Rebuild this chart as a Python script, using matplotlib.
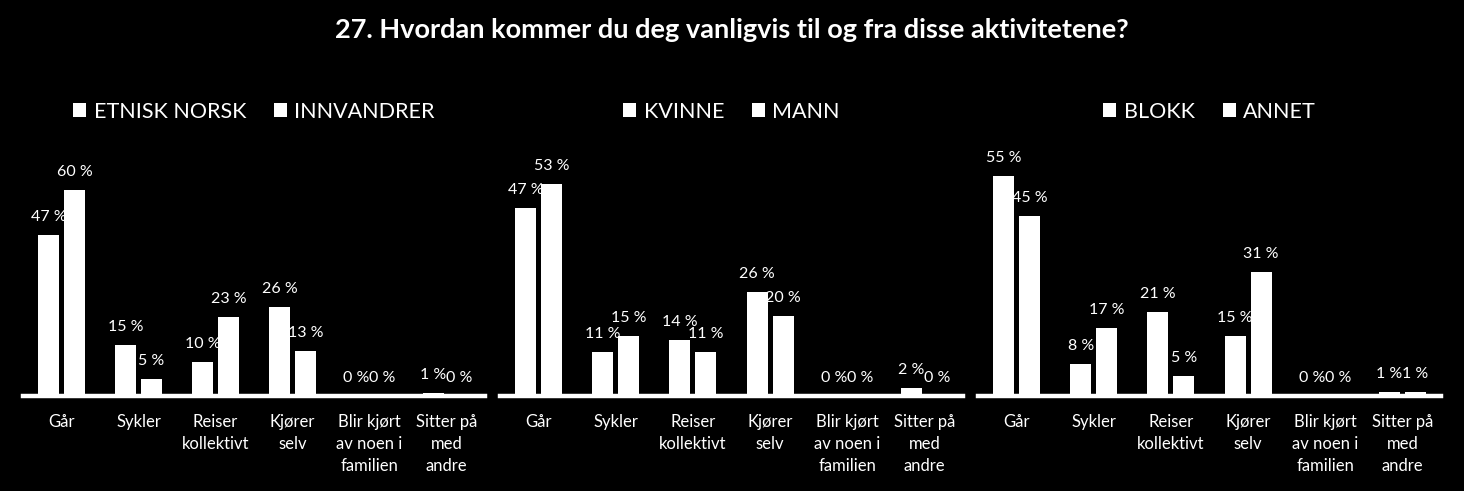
import numpy as np
import matplotlib
matplotlib.use("Agg")
import matplotlib.pyplot as plt
from matplotlib.patches import Patch

plt.rcParams["font.family"] = ["Lato", "DejaVu Sans"]

# data
title = "27. Hvordan kommer du deg vanligvis til og fra disse aktivitetene?"
categories = ["Går", "Sykler", "Reiser\nkollektivt", "Kjører\nselv",
              "Blir kjørt\nav noen i\nfamilien", "Sitter på\nmed\nandre"]

etnisk_norsk = [47, 15, 10, 26, 0, 1]
innvandrer = [60, 5, 23, 13, 0, 0]
kvinne = [47, 11, 14, 26, 0, 2]
mann = [53, 15, 11, 20, 0, 0]
blokk = [55, 8, 21, 15, 0, 1]
annet = [45, 17, 5, 31, 0, 1]

panels = [
    (("ETNISK NORSK", etnisk_norsk), ("INNVANDRER", innvandrer), 70),
    (("KVINNE", kvinne), ("MANN", mann), 60),
    (("BLOKK", blokk), ("ANNET", annet), 60),
]

W, H = 1464, 491
fig = plt.figure(figsize=(W / 100, H / 100), dpi=100, facecolor="black")

# axes boxes in pixels: left, width
boxes = [(23, 462), (500, 463), (978, 463)]
ax_bottom = 95
ax_top = 156

x = np.arange(len(categories))
bw = 0.273
off = 0.169

for (s1, s2, ymax), (left, width) in zip(panels, boxes):
    ax = fig.add_axes([left / W, ax_bottom / H, width / W, (H - ax_top - ax_bottom) / H])
    ax.set_facecolor("black")
    for name, vals, dx in [(s1[0], s1[1], -off), (s2[0], s2[1], off)]:
        ax.bar(x + dx, vals, width=bw, color="white", edgecolor="none")
        for xi, v in zip(x + dx, vals):
            ax.annotate(f"{v} %", (xi, v), xytext=(0, 13), textcoords="offset points",
                        ha="center", va="center", color="white", fontsize=11.5)
    ax.set_xlim(-0.5, len(categories) - 0.5)
    ax.set_ylim(0, ymax)
    ax.set_yticks([])
    ax.set_xticks(x)
    ax.set_xticklabels(categories, color="white", fontsize=12, linespacing=1.45)
    ax.tick_params(axis="x", length=0, pad=13)
    for sp in ["top", "left", "right"]:
        ax.spines[sp].set_visible(False)
    ax.spines["bottom"].set_color("white")
    ax.spines["bottom"].set_linewidth(3.2)

    handles = [Patch(facecolor="white", edgecolor="none"), Patch(facecolor="white", edgecolor="none")]
    ax.legend(handles, [s1[0], s2[0]], ncol=2, loc="center", bbox_to_anchor=(0.5, 1.184),
              frameon=False, labelcolor="white", fontsize=15.5, handlelength=0.6,
              handleheight=0.6, handletextpad=0.35, columnspacing=1.3)

fig.text(0.5, 1 - 30 / H, title, ha="center", va="center", color="white",
         fontsize=19.5, fontweight="bold")

fig.savefig("out.png", dpi=100, facecolor="black")
